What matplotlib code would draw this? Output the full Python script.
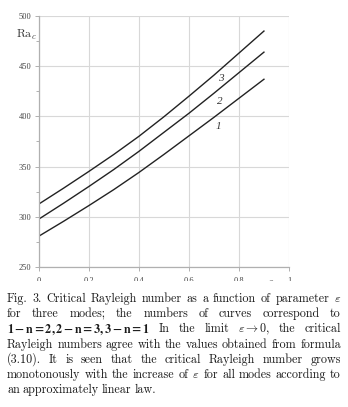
import numpy as np
import matplotlib
matplotlib.use("Agg")
import matplotlib.pyplot as plt
from matplotlib.patches import Rectangle

plt.rcParams["mathtext.fontset"] = "cm"
plt.rcParams["axes.unicode_minus"] = False

# epsilon values and critical Rayleigh numbers
eps = [0.0, 0.1, 0.2, 0.3, 0.4, 0.5, 0.6, 0.7, 0.8, 0.9]
ra_1 = [280.5, 295.5, 311, 327, 344, 362, 380.5, 399, 418, 437]
ra_2 = [297.5, 313.5, 330, 347, 365, 384, 403, 423, 443.5, 464]
ra_3 = [312.5, 328.5, 345, 362, 380, 399.5, 420, 441, 463, 485]
curve_names = ["1", "2", "3"]
label_pos = [(0.717, 390), (0.725, 415), (0.728, 438)]

x_ticks = [0, 0.2, 0.4, 0.6, 0.8, 1]
x_labels = ["0", "0.2", "0.4", "0.6", "0.8", "1"]
y_ticks = [250, 300, 350, 400, 450, 500]

caption = [
    r"Fig. 3. Critical Rayleigh number as a function of parameter $\varepsilon$",
    r"for three modes; the numbers of curves correspond to",
    r"$\mathbf{1-n=2,2-n=3,3-n=1}$ In the limit $\varepsilon\to\mathbf{0}$, the critical",
    r"Rayleigh numbers agree with the values obtained from formula",
    r"(3.10). It is seen that the critical Rayleigh number grows",
    r"monotonously with the increase of $\varepsilon$ for all modes according to",
    r"an approximately linear law.",
]

W, H = 348, 407
fig = plt.figure(figsize=(W / 100, H / 100), dpi=100)
ax = fig.add_axes([38.5 / W, 1 - 267 / H, 250.5 / W, 251 / H])

for ys in (ra_1, ra_2, ra_3):
    ax.plot(eps, ys, color="#222222", lw=1.0)

for name, (lx, ly) in zip(curve_names, label_pos):
    ax.text(lx, ly, name, fontsize=8, style="italic", family="Liberation Serif",
            color="#333333", ha="center", va="center")

ax.set_xlim(0, 1)
ax.set_ylim(250, 500)
ax.set_xticks(x_ticks)
ax.set_xticklabels(x_labels)
ax.set_yticks(y_ticks)
ax.set_yticks([275, 325, 375, 425, 475], minor=True)
ax.grid(True, color="#d8d8d8", lw=0.8)
for s in ("top", "right"):
    ax.spines[s].set_visible(False)
for s in ("left", "bottom"):
    ax.spines[s].set_color("#b0b0b0")
    ax.spines[s].set_linewidth(0.9)
ax.tick_params(axis="both", which="major", labelsize=6, colors="#b0b0b0",
               labelcolor="#444444", length=3, width=0.7, pad=2)
ax.tick_params(axis="x", which="major", pad=4)
ax.tick_params(axis="y", which="minor", length=2, width=0.7, colors="#b0b0b0")
for t in ax.get_xticklabels() + ax.get_yticklabels():
    t.set_family("Liberation Serif")
ax.text(0.93, 236, r"$\varepsilon$", fontsize=7, color="#444444",
        ha="center", va="center", clip_on=False)
ax.text(-0.05, 481, r"$\mathrm{Ra}_c$", fontsize=8.5, color="#333333",
        ha="center", va="center", clip_on=False)

# hide the lower half of the x tick labels, as in the scan
fig.add_artist(Rectangle((0, 0), 1, 1 - 281 / H, transform=fig.transFigure,
                         facecolor="white", edgecolor="none", zorder=10))

# justified caption
left, right = 7, 341
fs = 8.7
fig.canvas.draw()
rend = fig.canvas.get_renderer()
for i, line in enumerate(caption):
    y = 1 - (302 + i * 15.2) / H
    # split words but keep math segments intact
    words = []
    buf = ""
    inmath = False
    for ch in line:
        if ch == "$":
            inmath = not inmath
        if ch == " " and not inmath:
            if buf:
                words.append(buf)
            buf = ""
        else:
            buf += ch
    if buf:
        words.append(buf)
    arts = []
    for w in words:
        mf = "stix" if r"\mathbf{1" in w else "cm"
        arts.append(fig.text(0, y, w, fontsize=fs, family="cmr10",
                             color="#1a1a1a", va="baseline", zorder=11,
                             math_fontfamily=mf))
    widths = [a.get_window_extent(rend).width for a in arts]
    if i < len(caption) - 1 and len(words) > 1:
        gap = (right - left - sum(widths)) / (len(words) - 1)
    else:
        gap = fs * 0.33
    x = left
    for a, w in zip(arts, widths):
        a.set_x(x / W)
        x += w + gap

fig.savefig("out.png", dpi=100)
